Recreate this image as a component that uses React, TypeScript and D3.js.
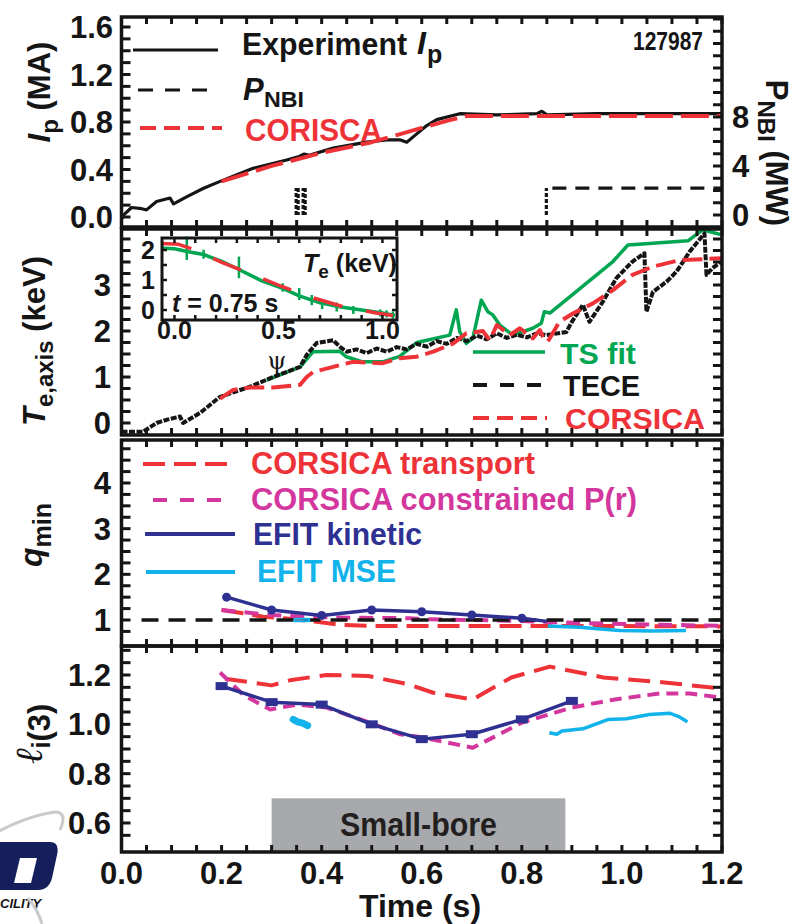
import React from "react";
import * as d3 from "d3";

// ---------- tick labels ----------
const timeTicks = [0, 0.2, 0.4, 0.6, 0.8, 1.0, 1.2];
const ipTicks = [0, 0.4, 0.8, 1.2, 1.6];
const pnbiTicks = [0, 4, 8];
const teTicks = [0, 1, 2, 3];
const qTicks = [1, 2, 3, 4];
const liTicks = [0.6, 0.8, 1.0, 1.2];
const psiTicks = [0, 0.5, 1.0];
const insetTeTicks = [0, 1, 2];

// ---------- panel 1: Ip and PNBI ----------
const ipExpT = [0, 0.005, 0.02, 0.04, 0.05, 0.07, 0.097, 0.104, 0.13, 0.163, 0.197, 0.263, 0.33, 0.355, 0.365, 0.375, 0.423, 0.49, 0.53, 0.556, 0.57, 0.59, 0.61, 0.63, 0.676, 0.75, 0.83, 0.84, 0.85, 0.95, 1.05, 1.2];
const ipExpV = [-0.02, 0.02, 0.08, 0.07, 0.06, 0.13, 0.16, 0.11, 0.17, 0.24, 0.30, 0.41, 0.48, 0.51, 0.53, 0.52, 0.58, 0.63, 0.65, 0.65, 0.63, 0.70, 0.77, 0.82, 0.87, 0.86, 0.87, 0.89, 0.86, 0.87, 0.87, 0.87];
const ipCorT = [0.2, 0.3, 0.4, 0.5, 0.55, 0.6, 0.65, 0.69, 0.8, 1.0, 1.2];
const ipCorV = [0.30, 0.43, 0.54, 0.63, 0.69, 0.75, 0.81, 0.85, 0.85, 0.85, 0.85];
const pnbiT = [0.349, 0.349, 0.353, 0.353, NaN, 0.363, 0.363, 0.367, 0.367, NaN, 0.849, 0.849, 1.2];
const pnbiV = [0, 2.2, 2.2, 0, NaN, 0, 2.2, 2.2, 0, NaN, 0, 2.2, 2.2];

// ---------- panel 2: Te axis ----------
const teceT = [0.0, 0.043, 0.07, 0.09, 0.117, 0.123, 0.157, 0.197, 0.257, 0.303, 0.357, 0.37, 0.39, 0.423, 0.436, 0.45, 0.47, 0.49, 0.51, 0.53, 0.55, 0.57, 0.59, 0.61, 0.63, 0.65, 0.67, 0.69, 0.71, 0.73, 0.75, 0.77, 0.79, 0.81, 0.83, 0.849, 0.889, 0.9, 0.922, 0.935, 0.962, 0.989, 1.021, 1.045, 1.049, 1.062, 1.089, 1.109, 1.135, 1.165, 1.169, 1.181, 1.2];
const teceV = [-0.19, -0.19, 0.0, 0.07, 0.14, 0.0, 0.22, 0.57, 0.79, 1.0, 1.22, 1.48, 1.74, 1.8, 1.66, 1.55, 1.6, 1.52, 1.62, 1.55, 1.65, 1.6, 1.72, 1.66, 1.78, 1.72, 1.85, 1.78, 1.9, 1.82, 1.95, 1.85, 1.92, 1.86, 1.95, 1.91, 1.98, 2.2, 2.57, 2.2, 2.64, 3.15, 3.51, 3.69, 2.42, 2.85, 3.07, 3.29, 3.72, 4.12, 3.22, 3.37, 3.51];
const tsT = [0.29, 0.357, 0.383, 0.436, 0.449, 0.482, 0.522, 0.556, 0.59, 0.656, 0.669, 0.676, 0.689, 0.702, 0.719, 0.732, 0.742, 0.756, 0.782, 0.822, 0.839, 0.845, 0.856, 0.982, 1.012, 1.132, 1.161, 1.2];
const tsV = [0.93, 1.22, 1.55, 1.56, 1.44, 1.33, 1.33, 1.45, 1.75, 1.91, 2.46, 1.98, 1.73, 1.84, 2.67, 2.42, 2.35, 2.13, 1.91, 2.06, 2.17, 2.42, 2.39, 3.51, 3.87, 3.96, 4.2, 4.09];
const teCorT = [0.197, 0.223, 0.257, 0.303, 0.357, 0.37, 0.383, 0.423, 0.462, 0.522, 0.556, 0.589, 0.623, 0.663, 0.689, 0.709, 0.722, 0.736, 0.75, 0.776, 0.796, 0.822, 0.836, 0.842, 0.852, 0.875, 0.902, 0.942, 0.982, 1.021, 1.062, 1.115, 1.2];
const teCorV = [0.53, 0.72, 0.77, 0.77, 0.83, 1.0, 1.11, 1.22, 1.33, 1.3, 1.41, 1.44, 1.55, 1.73, 1.95, 1.98, 2.0, 1.8, 2.13, 1.91, 2.06, 1.84, 2.02, 1.88, 1.77, 2.2, 2.38, 2.6, 2.89, 3.22, 3.4, 3.54, 3.58];

// inset Te profile at t = 0.75 s
const insTsPsi = [-0.055, 0.0, 0.06, 0.14, 0.23, 0.31, 0.42, 0.52, 0.6, 0.7, 0.8, 0.9, 1.0, 1.06];
const insTsTe = [2.06, 2.04, 1.95, 1.85, 1.61, 1.35, 0.97, 0.72, 0.47, 0.24, 0.1, 0.0, -0.1, -0.18];
const insCorPsi = [-0.06, 0.02, 0.1, 0.23, 0.38, 0.51, 0.67, 0.81, 0.97, 1.05];
const insCorTe = [2.22, 2.19, 2.0, 1.58, 1.17, 0.8, 0.4, 0.11, -0.1, -0.18];
const errPsi = [0.059, 0.14, 0.31, 0.52, 0.6, 0.66, 0.71, 0.78, 0.86, 0.99, 1.02, 1.05];
const errTe = [2.06, 1.86, 1.42, 0.75, 0.53, 0.33, 0.2, 0.1, 0.0, -0.1, -0.13, -0.17];
const errHalf = [0.39, 0.15, 0.36, 0.14, 0.2, 0.17, 0.17, 0.15, 0.13, 0.12, 0.12, 0.12];

// ---------- panel 3: q_min ----------
const qRefT = [0.04, 1.2];
const qRefV = [1, 1];
const qTrT = [0.2, 0.243, 0.283, 0.343, 0.39, 0.442, 0.51, 0.7, 0.9, 1.2];
const qTrV = [1.22, 1.15, 1.07, 1.02, 0.96, 0.89, 0.87, 0.87, 0.87, 0.86];
const qCpT = [0.2, 0.297, 0.376, 0.456, 0.576, 0.596, 0.796, 0.929, 1.2];
const qCpV = [1.22, 1.11, 1.07, 1.05, 1.04, 1.02, 0.98, 0.93, 0.87];
const qEkT = [0.21, 0.3, 0.4, 0.5, 0.6, 0.7, 0.8, 0.85];
const qEkV = [1.5, 1.22, 1.1, 1.22, 1.18, 1.11, 1.04, 0.97];
const qEkMarkT = [0.21, 0.3, 0.4, 0.5, 0.6, 0.7, 0.8];
const qEkMarkV = [1.5, 1.22, 1.1, 1.22, 1.18, 1.11, 1.04];
const qMseT = [0.852, 0.915, 0.995, 1.062, 1.128];
const qMseV = [0.87, 0.84, 0.77, 0.76, 0.77];
const qMseBlobT = [0.345, 0.375, 0.375, 0.345, 0.345];
const qMseBlobV = [1.03, 1.03, 0.97, 0.97, 1.03];

// ---------- panel 4: li(3) ----------
const liEkT = [0.2, 0.3, 0.4, 0.5, 0.6, 0.7, 0.8, 0.9];
const liEkV = [1.155, 1.09, 1.08, 1.0, 0.94, 0.96, 1.02, 1.095];
const liTrT = [0.207, 0.3, 0.34, 0.41, 0.493, 0.574, 0.623, 0.702, 0.779, 0.856, 0.963, 1.085, 1.197];
const liTrV = [1.185, 1.158, 1.18, 1.2, 1.196, 1.162, 1.128, 1.101, 1.19, 1.234, 1.19, 1.17, 1.145];
const liCpT = [0.197, 0.243, 0.297, 0.35, 0.41, 0.496, 0.556, 0.603, 0.702, 0.8, 0.9, 0.983, 1.075, 1.136, 1.2];
const liCpV = [1.21, 1.12, 1.06, 1.08, 1.068, 1.007, 0.96, 0.946, 0.905, 1.007, 1.068, 1.1, 1.125, 1.125, 1.108];
const liMseT = [0.855, 0.87, 0.88, 0.922, 0.973, 1.009, 1.055, 1.095, 1.115, 1.131];
const liMseV = [0.966, 0.96, 0.973, 0.982, 1.02, 1.023, 1.04, 1.045, 1.03, 1.01];
const liMseBlobT = [0.343, 0.352, 0.362, 0.372];
const liMseBlobV = [1.02, 1.01, 1.005, 0.995];
const smallBoreT = [0.3, 0.887];
const smallBoreTop = 0.70;

// ---------- styling ----------
const RED = "#ee3338";
const GREEN = "#00a651";
const BLACK = "#151515";
const MAGENTA = "#d3379e";
const NAVY = "#2e3192";
const CYAN = "#12b3ea";
const F = "'Liberation Sans', Arial, Helvetica, sans-serif";

const x = d3.scaleLinear().domain([0, 1.2]).range([121.5, 722]);
const ipY = d3.scaleLinear().domain([0, 1.6]).range([217, 27]);
const pnbiY = d3.scaleLinear().domain([0, 8]).range([215, 117]);
const teY = d3.scaleLinear().domain([0, 3]).range([423, 285]);
const qY = d3.scaleLinear().domain([1, 4]).range([620, 483]);
const liY = d3.scaleLinear().domain([0.6, 1.2]).range([823, 675]);
const insX = d3.scaleLinear().domain([-0.06, 1.07]).range([162, 397]);
const insY = d3.scaleLinear().domain([0, 2]).range([310, 250]);

const panels = [
  { top: 17, bottom: 227 },
  { top: 229, bottom: 435 },
  { top: 440, bottom: 646 },
  { top: 646, bottom: 852 },
];

type S = d3.ScaleLinear<number, number>;
function path(ts: number[], vs: number[], ys: S, xs: S = x): string {
  const idx = d3.range(ts.length);
  return (
    d3
      .line<number>()
      .defined((i) => !isNaN(ts[i]) && !isNaN(vs[i]))
      .x((i) => xs(ts[i]))
      .y((i) => ys(vs[i]))(idx) || ""
  );
}

function Frame({ top, bottom, leftTicks, rightTicks, ly, ry }: { top: number; bottom: number; leftTicks: number[]; rightTicks: number[]; ly: S; ry: S }) {
  const X0 = x(0), X1 = x(1.2);
  const tt = d3.range(0, 1.2001, 0.05);
  return (
    <g stroke={BLACK} strokeWidth={3}>
      {tt.map((t, i) => (
        <g key={"t" + i}>
          <line x1={x(t)} x2={x(t)} y1={top} y2={top + 7} />
          <line x1={x(t)} x2={x(t)} y1={bottom} y2={bottom - 7} />
        </g>
      ))}
      {leftTicks.map((v, i) => (
        <line key={"l" + i} x1={X0} x2={X0 + 9} y1={ly(v)} y2={ly(v)} />
      ))}
      {rightTicks.map((v, i) => (
        <line key={"r" + i} x1={X1} x2={X1 - 9} y1={ry(v)} y2={ry(v)} />
      ))}
      <rect x={X0} y={top} width={X1 - X0} height={bottom - top} fill="none" strokeWidth={3.5} />
    </g>
  );
}

function pnbiSegments() {
  const segs: JSX.Element[] = [];
  for (let i = 0; i < pnbiT.length - 1; i++) {
    const a = pnbiT[i], b = pnbiT[i + 1];
    if (isNaN(a) || isNaN(b)) continue;
    const vertical = a === b;
    segs.push(
      <line
        key={"pn" + i}
        x1={x(a)}
        x2={x(b)}
        y1={pnbiY(pnbiV[i])}
        y2={pnbiY(pnbiV[i + 1])}
        stroke={BLACK}
        strokeWidth={3.2}
        strokeDasharray={vertical ? "4,2" : "14,9"}
        strokeDashoffset={vertical ? 0 : -6}
      />
    );
  }
  return segs;
}

export default function App() {
  const lblL = 111;
  const r1 = d3.range(0, 1.601, 0.1);
  const r1r = d3.range(0, 16.01, 1);
  const r2 = d3.range(0, 4.01, 0.25);
  const r3 = d3.range(0.75, 4.76, 0.25);
  const r4 = d3.range(0.55, 1.301, 0.05);
  const insXT = d3.range(0, 1.001, 0.1);
  const insYT = d3.range(0, 2.01, 0.5);
  return (
    <svg width={798} height={924} viewBox="0 0 798 924" style={{ display: "block", position: "absolute", left: 0, top: 0, background: "#fff" }} fontFamily={F} fontWeight="bold">
      <rect width={798} height={924} fill="#fff" />

      {/* ===== Panel 1 ===== */}
      <g fill="none" strokeLinejoin="round">
        <path d={path(ipExpT, ipExpV, ipY)} stroke={BLACK} strokeWidth={3.2} />
        {pnbiSegments()}
        <path d={path(ipCorT, ipCorV, ipY)} stroke={RED} strokeWidth={4} strokeDasharray="28,8" />
      </g>
      <Frame top={panels[0].top} bottom={panels[0].bottom} leftTicks={r1} rightTicks={r1r} ly={ipY} ry={pnbiY} />
      {ipTicks.map((v) => (
        <text key={"ip" + v} x={lblL + 2} y={ipY(v) + 11} fontSize={31} textAnchor="end" fill={BLACK}>{v.toFixed(1)}</text>
      ))}
      {pnbiTicks.map((v) => (
        <text key={"pn" + v} x={732} y={pnbiY(v) + 11} fontSize={31} fill={BLACK}>{v}</text>
      ))}
      {/* legend 1 */}
      <line x1={133} x2={218} y1={50} y2={50} stroke={BLACK} strokeWidth={3.2} />
      <text x={242} y={55} fontSize={32} fill={BLACK} textLength={165} lengthAdjust="spacingAndGlyphs">Experiment</text>
      <text x={417} y={54} fontSize={32} fill={BLACK} fontStyle="italic">I</text>
      <text x={427} y={63} fontSize={25} fill={BLACK}>p</text>
      <line x1={138} x2={218} y1={90} y2={90} stroke={BLACK} strokeWidth={3} strokeDasharray="15,12" />
      <text x={243} y={100} fontSize={31} fill={BLACK} fontStyle="italic">P</text>
      <text x={264} y={107} fontSize={22} fill={BLACK} textLength={40} lengthAdjust="spacingAndGlyphs">NBI</text>
      <line x1={140} x2={222} y1={128} y2={128} stroke={RED} strokeWidth={4} strokeDasharray="16,8" />
      <text x={245} y={141} fontSize={31} fill={RED} textLength={137} lengthAdjust="spacingAndGlyphs">CORISCA</text>
      <text x={633} y={50} fontSize={25} fill={BLACK} textLength={70} lengthAdjust="spacingAndGlyphs">127987</text>
      {/* axis titles panel 1 */}
      <text transform="translate(50,92) rotate(-90)" fontSize={31} textAnchor="middle" fill={BLACK}>
        <tspan fontStyle="italic">I</tspan>
        <tspan fontSize={24} dy={8}>p</tspan>
        <tspan dy={-8}> (MA)</tspan>
      </text>
      <text transform="translate(766,153) rotate(90)" fontSize={31} textAnchor="middle" fill={BLACK}>
        <tspan>P</tspan>
        <tspan fontSize={24} dy={8}>NBI</tspan>
        <tspan dy={-8}> (MW)</tspan>
      </text>

      {/* ===== Panel 2 ===== */}
      <g fill="none" strokeLinejoin="round">
        <path d={path(tsT, tsV, teY)} stroke={GREEN} strokeWidth={3.5} />
        <path d={path(teceT, teceV, teY)} stroke={BLACK} strokeWidth={4} strokeDasharray="6,1.5" />
        <path d={path(teCorT, teCorV, teY)} stroke={RED} strokeWidth={4} strokeDasharray="20,7" />
      </g>
      <Frame top={panels[1].top} bottom={panels[1].bottom} leftTicks={r2} rightTicks={r2} ly={teY} ry={teY} />
      {teTicks.map((v) => (
        <text key={"te" + v} x={lblL} y={teY(v) + 11} fontSize={31} textAnchor="end" fill={BLACK}>{v}</text>
      ))}
      {/* legend 2 */}
      <line x1={473} x2={545} y1={352} y2={352} stroke={GREEN} strokeWidth={3.5} />
      <text x={560} y={364} fontSize={30} fill={GREEN} textLength={76} lengthAdjust="spacingAndGlyphs">TS fit</text>
      <line x1={473} x2={547} y1={385} y2={385} stroke={BLACK} strokeWidth={4} strokeDasharray="14,13" />
      <text x={563} y={396} fontSize={29} fill={BLACK} textLength={77} lengthAdjust="spacingAndGlyphs">TECE</text>
      <line x1={473} x2={547} y1={418} y2={418} stroke={RED} strokeWidth={4} strokeDasharray="16,8" />
      <text x={565} y={429} fontSize={29} fill={RED} textLength={140} lengthAdjust="spacingAndGlyphs">CORSICA</text>
      <text transform="translate(45,341) rotate(-90)" fontSize={31} textAnchor="middle" fill={BLACK}>
        <tspan fontStyle="italic">T</tspan>
        <tspan fontSize={24} dy={8}>e,axis</tspan>
        <tspan dy={-8}> (keV)</tspan>
      </text>

      {/* inset */}
      <rect x={insX(-0.06)} y={238} width={insX(1.07) - insX(-0.06)} height={82} fill="#fff" />
      <g fill="none" strokeLinejoin="round">
        <path d={path(insTsPsi, insTsTe, insY, insX)} stroke={GREEN} strokeWidth={3.5} />
        {errPsi.map((p, i) => (
          <line key={"eb" + i} x1={insX(p)} x2={insX(p)} y1={insY(errTe[i] - errHalf[i])} y2={insY(errTe[i] + errHalf[i])} stroke={GREEN} strokeWidth={2.5} />
        ))}
        <path d={path(insCorPsi, insCorTe, insY, insX)} stroke={RED} strokeWidth={3.5} strokeDasharray="30,24" />
      </g>
      <g stroke={BLACK} strokeWidth={2.5}>
        {insXT.map((p, i) => (
          <g key={"ix" + i}>
            <line x1={insX(p)} x2={insX(p)} y1={238} y2={243} />
            <line x1={insX(p)} x2={insX(p)} y1={320} y2={315} />
          </g>
        ))}
        {insYT.map((v, i) => (
          <g key={"iy" + i}>
            <line x1={162} x2={167} y1={insY(v)} y2={insY(v)} />
            <line x1={397} x2={392} y1={insY(v)} y2={insY(v)} />
          </g>
        ))}
        <rect x={162} y={238} width={235} height={82} fill="none" strokeWidth={3} />
      </g>
      {insetTeTicks.map((v) => (
        <text key={"it" + v} x={155} y={insY(v) + 9} fontSize={25} textAnchor="end" fill={BLACK}>{v}</text>
      ))}
      {psiTicks.map((p) => (
        <text key={"ip" + p} x={insX(p)} y={339} fontSize={25} textAnchor="middle" fill={BLACK}>{p.toFixed(1)}</text>
      ))}
      <text x={303} y={272} fontSize={25} fill={BLACK}>
        <tspan fontStyle="italic">T</tspan>
        <tspan fontSize={19} dy={6}>e</tspan>
        <tspan dy={-6}> (keV)</tspan>
      </text>
      <text x={172} y={312} fontSize={25} fill={BLACK}>
        <tspan fontStyle="italic">t</tspan>
        <tspan> = 0.75 s</tspan>
      </text>
      <text x={277} y={369} fontSize={24} fontWeight="normal" fontFamily="'DejaVu Serif', 'Liberation Serif', serif" textAnchor="middle" fill={BLACK}>ψ</text>

      {/* ===== Panel 3 ===== */}
      <g fill="none" strokeLinejoin="round">
        <path d={path(qTrT, qTrV, qY)} stroke={RED} strokeWidth={4} strokeDasharray="22,9" />
        <path d={path(qCpT, qCpV, qY)} stroke={MAGENTA} strokeWidth={4} strokeDasharray="14,9" />
        <path d={path(qRefT, qRefV, qY)} stroke={BLACK} strokeWidth={3.5} strokeDasharray="17,10" />
        <path d={path(qEkT, qEkV, qY)} stroke={NAVY} strokeWidth={3.5} />
        <path d={path(qMseT, qMseV, qY)} stroke={CYAN} strokeWidth={3.5} />
        <path d={path(qMseBlobT, qMseBlobV, qY)} stroke={CYAN} strokeWidth={2} />
      </g>
      {qEkMarkT.map((t, i) => (
        <circle key={"qm" + i} cx={x(t)} cy={qY(qEkMarkV[i])} r={4.5} fill={NAVY} />
      ))}
      <Frame top={panels[2].top} bottom={panels[2].bottom} leftTicks={r3} rightTicks={r3} ly={qY} ry={qY} />
      {qTicks.map((v) => (
        <text key={"q" + v} x={lblL} y={qY(v) + 11} fontSize={31} textAnchor="end" fill={BLACK}>{v}</text>
      ))}
      {/* legend 3 */}
      <line x1={143} x2={233} y1={464} y2={464} stroke={RED} strokeWidth={4} strokeDasharray="22,9" />
      <text x={251} y={474} fontSize={31} fill={RED} textLength={284} lengthAdjust="spacingAndGlyphs">CORSICA transport</text>
      <line x1={153} x2={227} y1={500} y2={500} stroke={MAGENTA} strokeWidth={4} strokeDasharray="14,13" />
      <text x={251} y={510} fontSize={31} fill={MAGENTA} textLength={386} lengthAdjust="spacingAndGlyphs">CORSICA constrained P(r)</text>
      <line x1={145} x2={235} y1={534} y2={534} stroke={NAVY} strokeWidth={4} />
      <text x={253} y={545} fontSize={31} fill={NAVY} textLength={169} lengthAdjust="spacingAndGlyphs">EFIT kinetic</text>
      <line x1={146} x2={235} y1={572} y2={572} stroke={CYAN} strokeWidth={4} />
      <text x={257} y={582} fontSize={31} fill={CYAN} textLength={139} lengthAdjust="spacingAndGlyphs">EFIT MSE</text>
      <text transform="translate(42,535) rotate(-90)" fontSize={32} textAnchor="middle" fill={BLACK}>
        <tspan fontStyle="italic">q</tspan>
        <tspan fontSize={25} dy={9}>min</tspan>
      </text>

      {/* ===== Panel 4 ===== */}
      <rect x={x(smallBoreT[0])} y={liY(smallBoreTop)} width={x(smallBoreT[1]) - x(smallBoreT[0])} height={panels[3].bottom - liY(smallBoreTop)} fill="#a7a9ac" />
      <text x={(x(smallBoreT[0]) + x(smallBoreT[1])) / 2} y={836} fontSize={33} textAnchor="middle" fill="#231f20" textLength={157} lengthAdjust="spacingAndGlyphs">Small-bore</text>
      <g fill="none" strokeLinejoin="round">
        <path d={path(liTrT, liTrV, liY)} stroke={RED} strokeWidth={4} strokeDasharray="22,10" />
        <path d={path(liCpT, liCpV, liY)} stroke={MAGENTA} strokeWidth={4} strokeDasharray="12,7" />
        <path d={path(liEkT, liEkV, liY)} stroke={NAVY} strokeWidth={3.5} />
        <path d={path(liMseT, liMseV, liY)} stroke={CYAN} strokeWidth={3.5} />
        <path d={path(liMseBlobT, liMseBlobV, liY)} stroke={CYAN} strokeWidth={7} strokeLinecap="round" />
      </g>
      {liEkT.map((t, i) => (
        <rect key={"lm" + i} x={x(t) - 6} y={liY(liEkV[i]) - 4} width={12} height={8} fill={NAVY} />
      ))}
      <Frame top={panels[3].top} bottom={panels[3].bottom} leftTicks={r4} rightTicks={r4} ly={liY} ry={liY} />
      {liTicks.map((v) => (
        <text key={"li" + v} x={lblL} y={liY(v) + 11} fontSize={31} textAnchor="end" fill={BLACK}>{v.toFixed(1)}</text>
      ))}
      <text transform="translate(42,734) rotate(-90)" fontSize={31} textAnchor="middle" fill={BLACK}>
        <tspan fontFamily="'DejaVu Serif', 'Liberation Serif', serif" fontStyle="italic" fontWeight="normal" fontSize={38}>ℓ</tspan>
        <tspan fontSize={25} dy={8}>i</tspan>
        <tspan>(3)</tspan>
      </text>

      {/* x axis labels */}
      {timeTicks.map((t) => (
        <text key={"tx" + t} x={x(t)} y={884} fontSize={31} textAnchor="middle" fill={BLACK}>{t.toFixed(1)}</text>
      ))}
      <text x={420} y={917} fontSize={32} textAnchor="middle" fill={BLACK}>Time (s)</text>

      {/* logo fragment */}
      <g>
        <path d="M -5 833 Q 30 815 55 812 Q 68 812 60 830" fill="none" stroke="#c9cacc" strokeWidth={3} />
        <path d="M 0 842 L 50 842 Q 60 842 57 855 L 52 878 Q 49 890 38 890 L -8 890 Z" fill="#141f5c" />
        <path d="M 20 858 L 37 858 L 31 883 L 14 883 Z" fill="#fff" />
        <text x={0} y={908} fontSize={13} fontStyle="italic" fill="#111">CILITY</text>
        <path d="M 28 898 Q 38 910 42 924" fill="none" stroke="#c9cacc" strokeWidth={3} />
      </g>
    </svg>
  );
}
